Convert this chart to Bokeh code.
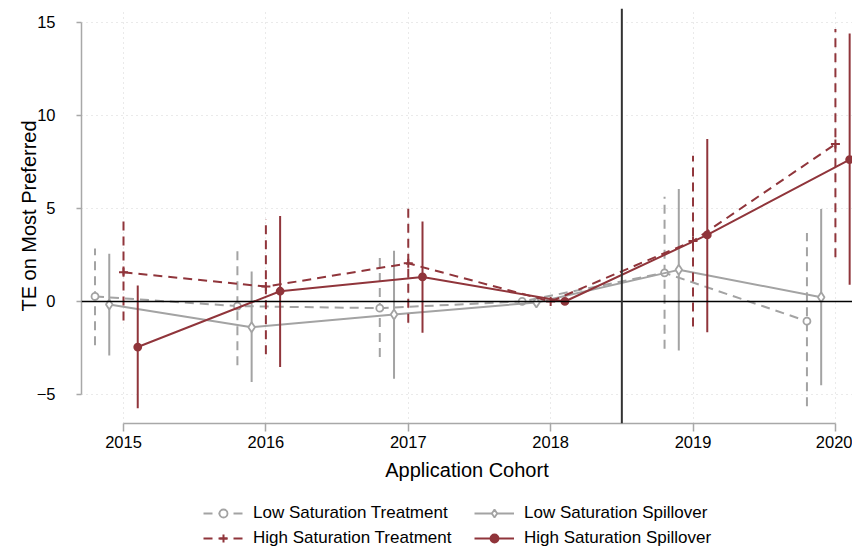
from bokeh.plotting import figure
from bokeh.layouts import column
from bokeh.models import (Range1d, FixedTicker, Span, Legend, LegendItem, ColumnDataSource)
from bokeh.embed import file_html
from bokeh.resources import INLINE

# ---- data ----
years = [2015, 2016, 2017, 2018, 2019, 2020]

lst_est = [0.27, -0.25, -0.36, 0.0, 1.54, -1.06]
lst_lo = [-2.36, -3.43, -2.99, 0.0, -2.54, -5.63]
lst_hi = [2.85, 2.91, 2.50, 0.0, 5.63, 3.68]

lss_est = [-0.16, -1.38, -0.70, -0.05, 1.70, 0.23]
lss_lo = [-2.90, -4.33, -4.15, -0.05, -2.63, -4.50]
lss_hi = [2.57, 1.61, 2.73, -0.05, 6.04, 4.97]

hst_est = [1.57, 0.80, 2.05, 0.0, 3.25, 8.46]
hst_lo = [-1.02, -2.84, -1.14, 0.0, -1.34, 2.38]
hst_hi = [4.45, 4.43, 5.20, 0.0, 7.83, 14.65]

hss_est = [-2.45, 0.55, 1.32, 0.0, 3.58, 7.63]
hss_lo = [-5.74, -3.52, -1.68, 0.0, -1.65, 0.90]
hss_hi = [0.86, 4.60, 4.30, 0.0, 8.73, 14.40]

labels = ["Low Saturation Treatment", "Low Saturation Spillover",
          "High Saturation Treatment", "High Saturation Spillover"]
y_ticks = [-5, 0, 5, 10, 15]

# ---- style ----
GRAY = "#a3a3a3"
RED = "#90353b"
FONT = "Liberation Sans"
offsets = [-0.2, -0.1, 0.0, 0.1]

p = figure(width=852, height=490, output_backend="svg", toolbar_location=None,
           x_range=Range1d(2014.705, 2020.12), y_range=Range1d(-6.56, 15.75),
           min_border_left=81, min_border_right=0, min_border_top=8,
           min_border_bottom=67)
p.outline_line_color = None
p.background_fill_color = "white"
p.border_fill_color = "white"

# grids
for g in (p.xgrid, p.ygrid):
    g.grid_line_color = "#d4d4d4"
    g.grid_line_dash = "1 4"
    g.grid_line_width = 1

# axes
p.xaxis.ticker = FixedTicker(ticks=years)
p.yaxis.ticker = FixedTicker(ticks=y_ticks)
p.xaxis.bounds = (2015, 2020)
p.yaxis.bounds = (-5, 15)
for ax in (p.xaxis, p.yaxis):
    ax.axis_line_color = "#a8a8a8"
    ax.axis_line_width = 1.5
    ax.major_tick_line_color = "#a8a8a8"
    ax.major_tick_line_width = 1.5
    ax.minor_tick_line_color = None
    ax.major_tick_in = 0
    ax.major_label_text_font = FONT
    ax.major_label_text_font_size = "16.5px"
    ax.major_label_text_color = "black"
    ax.axis_label_text_font = FONT
    ax.axis_label_text_font_size = "20px"
    ax.axis_label_text_font_style = "normal"
    ax.axis_label_text_color = "black"
p.xaxis.major_tick_out = 8
p.xaxis.major_label_standoff = 4
p.xaxis.axis_label = "Application Cohort"
p.xaxis.axis_label_standoff = 8
p.yaxis.major_tick_out = 5
p.yaxis.major_label_standoff = 21
p.yaxis.axis_label = "TE on Most Preferred"
p.yaxis.axis_label_standoff = -6

# reference lines
p.add_layout(Span(location=0, dimension="width", line_color="black", line_width=1.5))
p.add_layout(Span(location=2018.5, dimension="height", line_color="#333333", line_width=2))

series = [
    (lst_est, lst_lo, lst_hi, GRAY, "9 6", "circle", False, 7),
    (lss_est, lss_lo, lss_hi, GRAY, None, "diamond", False, 10),
    (hst_est, hst_lo, hst_hi, RED, "9 6", "cross", False, 9),
    (hss_est, hss_lo, hss_hi, RED, None, "circle", True, 7),
]


def draw_series(fig, src, col, dash, marker, filled, size, bars=True):
    kw = {}
    if dash:
        kw["line_dash"] = dash
    if bars:
        fig.segment(x0="x", y0="lo", x1="x", y1="hi", source=src, line_color=col,
                    line_width=2, **kw)
    ln = fig.line(x="x", y="est", source=src, line_color=col, line_width=2, **kw)
    if marker == "cross":
        sc = fig.scatter(x="x", y="est", source=src, marker="cross", size=size,
                         line_color=col, line_width=2)
    else:
        sc = fig.scatter(x="x", y="est", source=src, marker=marker, size=size,
                         line_color=col, line_width=1.8,
                         fill_color=col if filled else "white")
    return ln, sc


sources = []
for (est, lo, hi, col, dash, marker, filled, size), off in zip(series, offsets):
    xs = [y + off for y in years]
    src = ColumnDataSource(dict(x=xs, est=est, lo=lo, hi=hi))
    sources.append(src)
    draw_series(p, src, col, dash, marker, filled, size)

# ---- legend strip (separate figure under the chart; its ranges keep the
# series themselves out of view so only the legend shows) ----
lg = figure(width=852, height=58, output_backend="svg", toolbar_location=None,
            x_range=Range1d(0, 1), y_range=Range1d(100, 101),
            min_border_left=81, min_border_right=0, min_border_top=0,
            min_border_bottom=0)
lg.axis.visible = False
lg.grid.visible = False
lg.outline_line_color = None
lg.border_fill_color = "white"
lg.background_fill_color = "white"

items = []
for (est, lo, hi, col, dash, marker, filled, size), src, lab in zip(series, sources, labels):
    ln, sc = draw_series(lg, src, col, dash, marker, filled, size, bars=False)
    items.append(LegendItem(label=lab, renderers=[ln, sc]))

# column-major order: first column treatments, second column spillovers
ordered = [items[0], items[2], items[1], items[3]]
legend = Legend(items=ordered, orientation="vertical", nrows=2,
                location=(122, 0), border_line_color=None,
                background_fill_alpha=0, label_text_font=FONT,
                label_text_font_size="17px", label_text_color="black",
                glyph_width=40, glyph_height=20, label_standoff=10,
                label_width=216, spacing=5, padding=0, margin=0)
lg.add_layout(legend, "center")

layout = column(p, lg, spacing=0)
open("out.html", "w").write(file_html(layout, INLINE))
